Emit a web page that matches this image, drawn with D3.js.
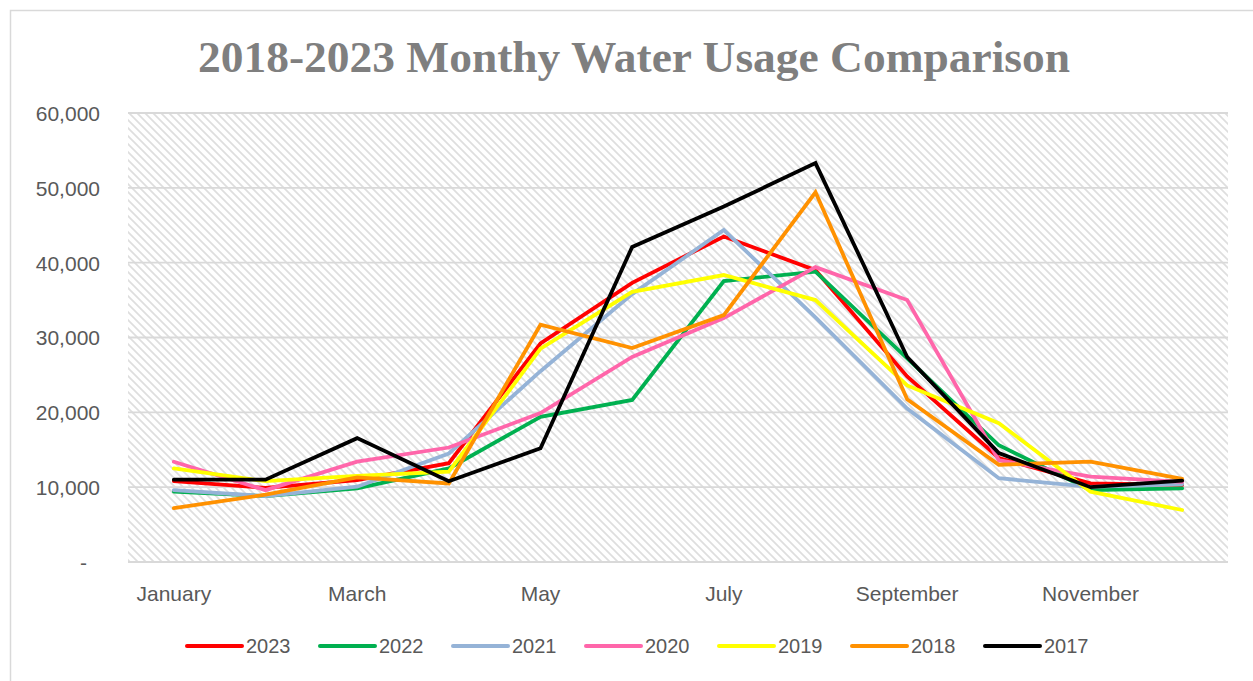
<!DOCTYPE html>
<html>
<head>
<meta charset="utf-8">
<script src="https://cdn.jsdelivr.net/npm/d3@7/dist/d3.min.js"></script>
<style>
  html, body { margin: 0; padding: 0; background: #fff; }
  svg { display: block; }
</style>
</head>
<body>
<div id="chart"></div>
<script>
// ---- Data ----
const months = ["January","February","March","April","May","June","July","August","September","October","November","December"];
const tickLabels = ["January","March","May","July","September","November"];
const yTicks = [0, 10000, 20000, 30000, 40000, 50000, 60000];
const seriesNames = ["2023","2022","2021","2020","2019","2018","2017"];
const seriesColors = ["#ff0000","#00b050","#95b3d7","#ff66aa","#ffff00","#ff9100","#000000"];

const v2023 = [10800, 9900, 10950, 13200, 29200, 37300, 43500, 39000, 24800, 13900, 10500, 10300];
const v2022 = [9400, 8800, 9850, 12500, 19400, 21650, 37550, 38800, 27200, 15600, 9600, 9850];
const v2021 = [9600, 8800, 10060, 14500, 25500, 35800, 44360, 32700, 20500, 11200, 10050, 10400];
const v2020 = [13400, 9600, 13400, 15300, 19900, 27400, 32600, 39400, 35000, 13600, 11400, 10700];
const v2019 = [12500, 10800, 11500, 12070, 28500, 36100, 38350, 35000, 23600, 18550, 9400, 6950];
const v2018 = [7200, 9000, 11300, 10500, 31700, 28600, 33000, 49400, 21750, 13000, 13400, 11100];
const v2017 = [11000, 11000, 16550, 10800, 15200, 42100, 47500, 53300, 27400, 14550, 10000, 10870];
const seriesValues = [v2023, v2022, v2021, v2020, v2019, v2018, v2017];

// ---- Layout ----
const W = 1253, H = 681;
const plot = { left: 128, right: 1228, top: 113, bottom: 562 };

const svg = d3.select("#chart").append("svg").attr("width", W).attr("height", H);

// Hatch pattern
const defs = svg.append("defs");
const pat = defs.append("pattern")
  .attr("id", "hatch").attr("patternUnits", "userSpaceOnUse")
  .attr("width", 8).attr("height", 8);
pat.append("rect").attr("width", 8).attr("height", 8).attr("fill", "#ffffff");
pat.append("path").attr("d", "M-2,-2 L10,10 M-2,6 L2,10 M6,-2 L10,2")
  .attr("stroke", "#dedede").attr("stroke-width", 1.7);

// Chart border
svg.append("rect").attr("x", 10.5).attr("y", 10.5).attr("width", W + 20).attr("height", H + 20)
  .attr("fill", "#fff").attr("stroke", "#d9d9d9").attr("stroke-width", 1.5);

// Title
svg.append("text")
  .attr("x", 634).attr("y", 72)
  .attr("text-anchor", "middle")
  .attr("font-family", "'Liberation Serif', 'DejaVu Serif', serif")
  .attr("font-weight", "bold")
  .attr("font-size", 44)
  .attr("fill", "#7f7f7f")
  .attr("textLength", 872).attr("lengthAdjust", "spacingAndGlyphs")
  .text("2018-2023 Monthy Water Usage Comparison");

// Scales
const x = d3.scaleBand().domain(months).range([plot.left, plot.right]).paddingInner(0).paddingOuter(0);
const y = d3.scaleLinear().domain([0, 60000]).range([plot.bottom, plot.top]);

// Plot background
svg.append("rect")
  .attr("x", plot.left).attr("y", plot.top)
  .attr("width", plot.right - plot.left).attr("height", plot.bottom - plot.top)
  .attr("fill", "url(#hatch)");

// Gridlines
svg.append("g").selectAll("line").data(yTicks).join("line")
  .attr("x1", plot.left).attr("x2", plot.right)
  .attr("y1", d => y(d)).attr("y2", d => y(d))
  .attr("stroke", "#d9d9d9").attr("stroke-width", 1.8);

// Y axis
const fmt = d => d === 0 ? "-" : d3.format(",")(d);
const yAxis = svg.append("g").attr("transform", `translate(${plot.left - 28},0)`)
  .call(d3.axisLeft(y).tickValues(yTicks).tickFormat(fmt).tickSize(0).tickPadding(0));
yAxis.select(".domain").remove();
yAxis.selectAll("text")
  .attr("font-family", "'Liberation Sans', Arial, sans-serif")
  .attr("font-size", 21).attr("fill", "#595959")
  .attr("dy", "0.35em")
  .attr("dx", d => d === 0 ? -13 : 0);

// X axis
const xAxis = svg.append("g").attr("transform", `translate(0,${plot.bottom})`)
  .call(d3.axisBottom(x).tickValues(tickLabels).tickSize(0).tickPadding(0));
xAxis.select(".domain").remove();
xAxis.selectAll("text")
  .attr("font-family", "'Liberation Sans', Arial, sans-serif")
  .attr("font-size", 21).attr("fill", "#595959")
  .attr("y", 32).attr("dy", "0.35em");

// Lines
const line = d3.line()
  .x((d, i) => x(months[i]) + x.bandwidth() / 2)
  .y(d => y(d));

svg.append("g").selectAll("path").data(seriesValues).join("path")
  .attr("d", d => line(d))
  .attr("fill", "none")
  .attr("stroke", (d, i) => seriesColors[i])
  .attr("stroke-width", 3.8)
  .attr("stroke-linejoin", "miter")
  .attr("stroke-linecap", "round");

// Legend
const legend = svg.append("g").attr("transform", "translate(187,646)");
const items = legend.selectAll("g").data(seriesNames).join("g")
  .attr("transform", (d, i) => `translate(${i * 133},0)`);
items.append("line")
  .attr("x1", 0).attr("x2", 55).attr("y1", 0).attr("y2", 0)
  .attr("stroke", (d, i) => seriesColors[i]).attr("stroke-width", 4)
  .attr("stroke-linecap", "round");
items.append("text")
  .attr("x", 59).attr("y", 0).attr("dy", "0.35em")
  .attr("font-family", "'Liberation Sans', Arial, sans-serif")
  .attr("font-size", 20).attr("fill", "#595959")
  .text(d => d);
</script>
</body>
</html>
